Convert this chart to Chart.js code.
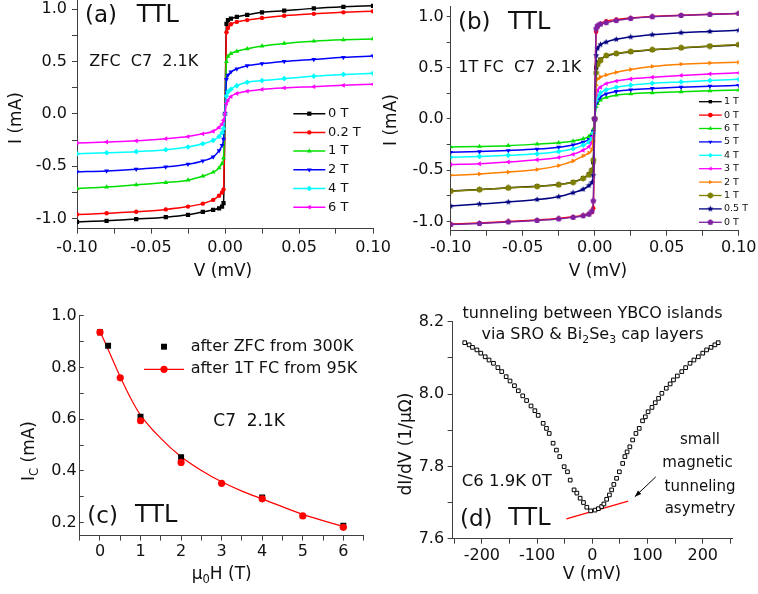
<!DOCTYPE html>
<html lang="en">
<head>
<meta charset="UTF-8">
<title>TTL tunneling junctions</title>
<script src="https://cdn.jsdelivr.net/npm/chart.js"></script>
<style>
  body { margin: 0; background: #fff; }
  #wrap { position: relative; width: 758px; height: 594px; }
  #wrap canvas { position: absolute; left: 0; top: 0; }
</style>
</head>
<body>
<div id="wrap">
  <canvas id="pa" width="758" height="594"></canvas>
  <canvas id="pb" width="758" height="594"></canvas>
  <canvas id="pc" width="758" height="594"></canvas>
  <canvas id="pd" width="758" height="594"></canvas>
</div>
<script>
// ---------- (a) I-V after ZFC ----------
const va = [-0.1, -0.08, -0.06, -0.04, -0.025, -0.015, -0.008, -0.004, -0.002, -0.001, 0,
            0.001, 0.002, 0.004, 0.008, 0.015, 0.025, 0.04, 0.06, 0.08, 0.1];
const fieldsA = ['0 T', '0.2 T', '1 T', '2 T', '4 T', '6 T'];
const ia0T  = [-1.03, -1.02, -1.003, -0.985, -0.962, -0.935, -0.915, -0.9, -0.885, -0.85, 0, 0.86, 0.895, 0.91, 0.925, 0.945, 0.97, 0.985, 1.007, 1.022, 1.032];
const ia02T = [-0.96, -0.948, -0.934, -0.911, -0.884, -0.856, -0.82, -0.78, -0.75, -0.72, 0, 0.78, 0.82, 0.855, 0.878, 0.895, 0.915, 0.937, 0.955, 0.969, 0.98];
const ia1T  = [-0.712, -0.697, -0.676, -0.654, -0.632, -0.593, -0.556, -0.515, -0.473, -0.42, 0, 0.5, 0.55, 0.575, 0.598, 0.622, 0.648, 0.673, 0.694, 0.707, 0.716];
const ia2T  = [-0.553, -0.544, -0.528, -0.506, -0.48, -0.449, -0.41, -0.35, -0.3, -0.24, 0, 0.33, 0.37, 0.4, 0.43, 0.46, 0.48, 0.5, 0.52, 0.54, 0.553];
const ia4T  = [-0.38, -0.37, -0.36, -0.342, -0.315, -0.285, -0.252, -0.215, -0.18, -0.14, 0, 0.17, 0.21, 0.235, 0.27, 0.302, 0.318, 0.337, 0.36, 0.377, 0.387];
const ia6T  = [-0.277, -0.268, -0.257, -0.236, -0.216, -0.19, -0.165, -0.128, -0.095, -0.06, 0, 0.1, 0.13, 0.165, 0.195, 0.217, 0.234, 0.248, 0.26, 0.273, 0.283];

// ---------- (b) I-V after 1T FC (same V grid) ----------
const vb = va;
const fieldsB = ['1 T', '0 T', '6 T', '5 T', '4 T', '3 T', '2 T', '1 T', '0.5 T', '0 T'];
const ib1Ta = [-0.702, -0.688, -0.672, -0.656, -0.64, -0.615, -0.578, -0.54, -0.5, -0.42, 0, 0.5, 0.55, 0.58, 0.615, 0.638, 0.655, 0.675, 0.693, 0.71, 0.722];
const ib0Ta = [-1.025, -1.015, -1.0, -0.985, -0.97, -0.955, -0.94, -0.925, -0.91, -0.87, 0, 0.85, 0.9, 0.93, 0.955, 0.97, 0.985, 1.0, 1.012, 1.022, 1.03];
const ib6T  = [-0.273, -0.268, -0.26, -0.245, -0.232, -0.215, -0.193, -0.17, -0.14, -0.1, 0, 0.12, 0.15, 0.185, 0.21, 0.232, 0.245, 0.256, 0.266, 0.275, 0.283];
const ib5T  = [-0.325, -0.318, -0.308, -0.294, -0.275, -0.253, -0.225, -0.2, -0.17, -0.12, 0, 0.15, 0.18, 0.215, 0.245, 0.268, 0.285, 0.298, 0.31, 0.32, 0.328];
const ib4T  = [-0.374, -0.365, -0.355, -0.34, -0.318, -0.29, -0.255, -0.225, -0.19, -0.14, 0, 0.18, 0.22, 0.255, 0.285, 0.31, 0.33, 0.348, 0.362, 0.375, 0.387];
const ib3T  = [-0.445, -0.437, -0.42, -0.398, -0.375, -0.345, -0.305, -0.27, -0.23, -0.17, 0, 0.24, 0.28, 0.31, 0.345, 0.37, 0.39, 0.407, 0.425, 0.44, 0.45];
const ib2T  = [-0.55, -0.537, -0.518, -0.494, -0.455, -0.41, -0.36, -0.33, -0.3, -0.22, 0, 0.33, 0.39, 0.41, 0.43, 0.455, 0.483, 0.513, 0.535, 0.546, 0.553];
const ib1Tb = [-0.705, -0.69, -0.673, -0.658, -0.642, -0.618, -0.58, -0.545, -0.5, -0.4, 0, 0.45, 0.53, 0.57, 0.62, 0.64, 0.658, 0.676, 0.695, 0.712, 0.725];
const ib05T = [-0.85, -0.83, -0.81, -0.786, -0.758, -0.72, -0.686, -0.65, -0.62, -0.55, 0, 0.62, 0.69, 0.725, 0.75, 0.777, 0.8, 0.822, 0.842, 0.854, 0.865];
const ib0Tb = [-1.03, -1.02, -1.005, -0.99, -0.975, -0.96, -0.945, -0.93, -0.9, -0.8, 0, 0.88, 0.91, 0.925, 0.94, 0.96, 0.98, 0.997, 1.01, 1.02, 1.03];

// ---------- (c) Ic vs field ----------
const hZfc  = [0, 0.2, 1, 2, 4, 6];
const icZfc = [0.936, 0.884, 0.61, 0.453, 0.297, 0.188];
const hFc   = [0, 0.5, 1, 2, 3, 4, 5, 6];
const icFc  = [0.936, 0.76, 0.594, 0.433, 0.352, 0.292, 0.226, 0.182];
const hFit  = [0, 0.25, 0.5, 0.75, 1, 1.5, 2, 2.5, 3, 3.5, 4, 5, 6];
const icFit = [0.94, 0.852, 0.764, 0.683, 0.616, 0.526, 0.455, 0.402, 0.358, 0.322, 0.292, 0.232, 0.185];

// ---------- (d) dI/dV ----------
const dV = [-231, -223, -217, -209, -202, -194, -187, -179, -171, -164, -156, -149, -141, -134, -126, -119, -111, -104, -98, -89,
            -83, -78, -71, -65, -59, -51, -45, -40, -33, -28, -22, -16, -10, -3,
            5, 11, 17, 21, 26, 31, 35, 39, 44, 49, 55, 59, 63, 68, 73, 79, 85, 91, 96, 101,
            108, 114, 120, 126, 134, 141, 147, 154, 162, 169, 177, 184, 192, 200, 207, 215, 222, 228];
const dG = [8.142, 8.136, 8.129, 8.122, 8.113, 8.103, 8.094, 8.085, 8.073, 8.062, 8.048, 8.036, 8.023, 8.009, 7.995, 7.982, 7.967, 7.954, 7.941, 7.919,
            7.905, 7.891, 7.864, 7.845, 7.827, 7.799, 7.785, 7.762, 7.735, 7.726, 7.712, 7.700, 7.687, 7.677,
            7.679, 7.683, 7.689, 7.696, 7.709, 7.721, 7.735, 7.750, 7.767, 7.785, 7.808, 7.827, 7.840, 7.854, 7.873, 7.891, 7.905, 7.926, 7.937, 7.951,
            7.963, 7.976, 7.988, 8.002, 8.016, 8.028, 8.039, 8.050, 8.062, 8.073, 8.085, 8.094, 8.103, 8.113, 8.122, 8.129, 8.136, 8.142];
const asymV = [-47, 65];
const asymG = [7.655, 7.704];
const arrowV = [115, 77];      // tail, head
const arrowG = [7.771, 7.716];

// ---------- helpers ----------
const FONT = '"DejaVu Sans", "Liberation Sans", Arial, sans-serif';
const AXIS = '#404040';
const INK = '#111';

function shape(color, sides, star) {
    // small filled polygon / star marker for Origin-like symbols
    const c = document.createElement('canvas');
    c.width = c.height = 7;
    const g = c.getContext('2d');
    const n = star ? sides * 2 : sides;
    g.fillStyle = color;
    g.beginPath();
    for (let i = 0; i < n; i++) {
        const r = star && i % 2 ? 1.5 : 3.2;
        const a = -Math.PI / 2 + i * 2 * Math.PI / n;
        g.lineTo(3.5 + r * Math.cos(a), 3.5 + r * Math.sin(a));
    }
    g.closePath();
    g.fill();
    return c;
}

function drawRich(ctx, segs, x, y, size, align, rot) {
    ctx.save();
    ctx.translate(x, y);
    if (rot) ctx.rotate(rot * Math.PI / 180);
    let w = 0;
    const parts = segs.map(s => {
        const fs = s.sub ? size * 0.68 : size;
        ctx.font = fs + 'px ' + FONT;
        const m = ctx.measureText(s.t).width;
        w += m;
        return { s, fs, m };
    });
    let cx = align === 'center' ? -w / 2 : (align === 'right' ? -w : 0);
    ctx.textBaseline = 'middle';
    ctx.textAlign = 'left';
    ctx.fillStyle = INK;
    parts.forEach(p => {
        ctx.font = p.fs + 'px ' + FONT;
        ctx.fillText(p.s.t, cx, p.s.sub ? size * 0.32 : 0);
        cx += p.m;
    });
    ctx.restore();
}

function notePlugin(notes) {
    return {
        id: 'notes',
        afterDraw(chart) {
            notes.forEach(n => drawRich(chart.ctx, typeof n.s === 'string' ? [{ t: n.s }] : n.s,
                n.x, n.y, n.size, n.align || 'left', n.rot));
        }
    };
}

function keyPlugin(items, o) {
    return {
        id: 'keys',
        afterDraw(chart) {
            const ctx = chart.ctx;
            items.forEach((it, k) => {
                const y = o.y + k * o.dy;
                ctx.save();
                if (it.line !== false) {
                    ctx.strokeStyle = it.color;
                    ctx.lineWidth = o.lw || 1.5;
                    ctx.beginPath();
                    ctx.moveTo(o.x0, y);
                    ctx.lineTo(o.x1, y);
                    ctx.stroke();
                }
                ctx.fillStyle = it.color;
                Chart.helpers.drawPoint(ctx, { pointStyle: it.style, rotation: it.rot || 0, radius: it.r, borderWidth: 0 },
                    (o.x0 + o.x1) / 2, y);
                ctx.restore();
                drawRich(ctx, [{ t: it.label }], o.tx, y, o.size, 'left');
            });
        }
    };
}

function isMult(v, m) { return Math.abs(v / m - Math.round(v / m)) < 1e-6; }

function axis(min, max, step, every, digits, o) {
    o = o || {};
    return {
        type: 'linear', min, max,
        border: { display: true, color: AXIS, width: 1 },
        grid: { display: true, drawOnChartArea: false, drawTicks: true, tickLength: o.tl === undefined ? 5 : o.tl, color: AXIS, tickColor: AXIS },
        ticks: {
            stepSize: step, includeBounds: false, autoSkip: false, maxRotation: 0,
            padding: o.pad === undefined ? 5 : o.pad, color: INK, font: { family: FONT, size: 16 },
            callback: v => {
                if (!isMult(v, every)) return '';
                if (Math.abs(v) < 1e-9) v = 0;
                return v.toFixed(digits);
            }
        },
        afterFit: s => {
            if (s.isHorizontal()) s.height = 50; else s.width = 50;
            // keep the plot box exactly where the layout padding puts it
            s.paddingTop = s.paddingBottom = s.paddingLeft = s.paddingRight = 0;
        }
    };
}

function options(area, xs, ys) {
    return {
        responsive: false, animation: false, devicePixelRatio: 1, events: [],
        layout: { autoPadding: false, padding: { left: area.l - 50, top: area.t, right: 758 - area.r, bottom: 594 - area.b - 50 } },
        plugins: { legend: { display: false }, tooltip: { enabled: false } },
        scales: { x: xs, y: ys }
    };
}

function ivSet(label, v, i, color, style, rot, r, k) {
    return {
        label, data: v.map((x, n) => ({ x, y: i[n] })),
        showLine: true, borderColor: color, backgroundColor: color, borderWidth: 1.5,
        pointStyle: style, pointRotation: rot, pointRadius: r, pointBorderWidth: 0,
        pointBackgroundColor: color, cubicInterpolationMode: 'monotone', order: -k
    };
}

// ---------- panel (a) ----------
const specA = [
    [ia0T, '#000000', 'rect', 0, 3],
    [ia02T, '#ff0000', 'circle', 0, 2.2],
    [ia1T, '#00e000', 'triangle', 0, 2.8],
    [ia2T, '#0000ff', 'triangle', 180, 2.8],
    [ia4T, '#00ffff', 'rectRot', 0, 2.8],
    [ia6T, '#ff00ff', 'triangle', 270, 2.8]
];
const setsA = specA.map((s, k) => ivSet(fieldsA[k], va, s[0], s[1], s[2], s[3], s[4], k));

new Chart(document.getElementById('pa'), {
    type: 'scatter',
    data: { datasets: setsA },
    options: options({ l: 77, r: 373, t: 0.2, b: 228.7 },
        axis(-0.1, 0.1, 0.025, 0.05, 2, { pad: 5 }),
        axis(-1.095, 1.085, 0.25, 0.5, 1, { pad: 5 })),
    plugins: [
        notePlugin([
            { s: '(a)', x: 85, y: 16, size: 23 },
            { s: 'TTL', x: 136.7, y: 15.5, size: 24 },
            { s: 'ZFC  C7  2.1K', x: 89.3, y: 62.3, size: 16 },
            { s: 'I (mA)', x: 17, y: 118, size: 17, align: 'center', rot: -90 },
            { s: 'V (mV)', x: 223, y: 272, size: 17, align: 'center' }
        ]),
        keyPlugin(setsA.map(d => ({ label: d.label, color: d.borderColor, style: d.pointStyle, rot: d.pointRotation, r: d.pointRadius })),
            { x0: 293.3, x1: 325.3, tx: 328, y: 113.7, dy: 18.7, size: 13 })
    ]
});

// ---------- panel (b) ----------
const specB = [
    [ib1Ta, '#000000', 'rect', 0, 3],
    [ib0Ta, '#ff0000', 'circle', 0, 2.2],
    [ib6T, '#00e000', 'triangle', 0, 2.8],
    [ib5T, '#0000ff', 'triangle', 180, 2.8],
    [ib4T, '#00ffff', 'rectRot', 0, 2.8],
    [ib3T, '#ff00ff', 'triangle', 270, 2.8],
    [ib2T, '#ff8000', 'triangle', 90, 2.8],
    [ib1Tb, '#808000', shape('#808000', 6, false), 0, 3],
    [ib05T, '#000080', shape('#000080', 5, true), 0, 3],
    [ib0Tb, '#8020a0', shape('#8020a0', 5, false), 0, 3]
];
const setsB = specB.map((s, k) => ivSet(fieldsB[k], vb, s[0], s[1], s[2], s[3], s[4], k));

new Chart(document.getElementById('pb'), {
    type: 'scatter',
    data: { datasets: setsB },
    options: options({ l: 450.7, r: 738.7, t: 6.25, b: 230.7 },
        axis(-0.1, 0.1, 0.025, 0.05, 2, { pad: 3 }),
        axis(-1.09, 1.1, 0.25, 0.5, 1, { pad: 3, tl: 4 })),
    plugins: [
        notePlugin([
            { s: '(b)', x: 458, y: 23, size: 23 },
            { s: 'TTL', x: 508, y: 23, size: 24 },
            { s: '1T FC  C7  2.1K', x: 458.3, y: 68.3, size: 16 },
            { s: 'I (mA)', x: 392, y: 120, size: 17, align: 'center', rot: -90 },
            { s: 'V (mV)', x: 598, y: 272, size: 17, align: 'center' }
        ]),
        keyPlugin(setsB.map(d => ({ label: d.label, color: d.borderColor, style: d.pointStyle, rot: d.pointRotation, r: 2.4 })),
            { x0: 699, x1: 721.7, tx: 724, y: 101.7, dy: 13.4, size: 9.5, lw: 1.3 })
    ]
});

// ---------- panel (c) ----------
new Chart(document.getElementById('pc'), {
    type: 'scatter',
    data: {
        datasets: [
            { label: 'after ZFC from 300K', data: hZfc.map((x, n) => ({ x, y: icZfc[n] })),
              pointStyle: 'rect', pointRadius: 4.2, pointBorderWidth: 0, backgroundColor: '#000', borderColor: '#000', order: 1 },
            { label: 'after 1T FC from 95K', data: hFc.map((x, n) => ({ x, y: icFc[n] })),
              pointStyle: 'circle', pointRadius: 3.6, pointBorderWidth: 0, backgroundColor: '#ff0000', borderColor: '#ff0000', order: 0 },
            { label: 'fit', data: hFit.map((x, n) => ({ x, y: icFit[n] })), showLine: true,
              pointRadius: 0, borderColor: '#ff0000', borderWidth: 1.2, cubicInterpolationMode: 'monotone', order: 2 }
        ]
    },
    options: options({ l: 79.7, r: 363.6, t: 315.7, b: 535.6 },
        axis(-0.5, 6.5, 0.5, 1, 0, { pad: 2 }),
        axis(0.15, 1.0, 0.1, 0.2, 1, { pad: 7, tl: -4 })),
    plugins: [
        notePlugin([
            { s: '(c)', x: 87.3, y: 517, size: 23 },
            { s: 'TTL', x: 135, y: 516, size: 24 },
            { s: 'C7  2.1K', x: 213.3, y: 421.7, size: 17 },
            { s: [{ t: 'I' }, { t: 'C', sub: true }, { t: ' (mA)' }], x: 30, y: 451, size: 17, align: 'center', rot: -90 },
            { s: [{ t: 'μ' }, { t: '0', sub: true }, { t: 'H (T)' }], x: 221.7, y: 575, size: 17, align: 'center' }
        ]),
        keyPlugin([
            { label: 'after ZFC from 300K', color: '#000', style: 'rect', r: 4.2, line: false },
            { label: 'after 1T FC from 95K', color: '#ff0000', style: 'circle', r: 3.6 }
        ], { x0: 144, x1: 184, tx: 190.7, y: 346.7, dy: 22.6, size: 16, lw: 1.2 })
    ]
});

// ---------- panel (d) ----------
const arrowPlugin = {
    id: 'arrow',
    afterDatasetsDraw(chart) {
        const { ctx, scales: { x, y } } = chart;
        const x0 = x.getPixelForValue(arrowV[0]), y0 = y.getPixelForValue(arrowG[0]);
        const x1 = x.getPixelForValue(arrowV[1]), y1 = y.getPixelForValue(arrowG[1]);
        const a = Math.atan2(y1 - y0, x1 - x0);
        ctx.save();
        ctx.strokeStyle = '#000';
        ctx.fillStyle = '#000';
        ctx.lineWidth = 1;
        ctx.beginPath();
        ctx.moveTo(x0, y0);
        ctx.lineTo(x1, y1);
        ctx.stroke();
        ctx.beginPath();
        ctx.moveTo(x1, y1);
        ctx.lineTo(x1 - 7 * Math.cos(a - 0.35), y1 - 7 * Math.sin(a - 0.35));
        ctx.lineTo(x1 - 7 * Math.cos(a + 0.35), y1 - 7 * Math.sin(a + 0.35));
        ctx.closePath();
        ctx.fill();
        ctx.restore();
    }
};

new Chart(document.getElementById('pd'), {
    type: 'scatter',
    data: {
        datasets: [
            { label: 'dI/dV', data: dV.map((x, n) => ({ x, y: dG[n] })),
              pointStyle: 'rect', pointRadius: 2.6, pointBorderWidth: 1, borderColor: '#000', backgroundColor: '#fff', order: 0 },
            { label: 'asymmetry', data: asymV.map((x, n) => ({ x, y: asymG[n] })), showLine: true,
              pointRadius: 0, borderColor: '#ff0000', borderWidth: 1.2, order: 1 }
        ]
    },
    options: options({ l: 452.6, r: 732, t: 321.7, b: 538.7 },
        axis(-253, 253, 50, 100, 0, { pad: 3 }),
        axis(7.6, 8.2, 0.1, 0.2, 1, { pad: 3.5 })),
    plugins: [
        arrowPlugin,
        notePlugin([
            { s: '(d)', x: 460, y: 520, size: 23 },
            { s: 'TTL', x: 508.3, y: 518.3, size: 24 },
            { s: 'C6 1.9K 0T', x: 461.7, y: 481.7, size: 16.5 },
            { s: 'tunneling between YBCO islands', x: 592.5, y: 314, size: 16, align: 'center' },
            { s: [{ t: 'via SRO & Bi' }, { t: '2', sub: true }, { t: 'Se' }, { t: '3', sub: true }, { t: ' cap layers' }], x: 592.5, y: 335, size: 16, align: 'center' },
            { s: 'small', x: 700, y: 440, size: 15, align: 'center' },
            { s: 'magnetic', x: 697.5, y: 463.3, size: 15, align: 'center' },
            { s: 'tunneling', x: 700, y: 486.7, size: 15, align: 'center' },
            { s: 'asymetry', x: 700, y: 509.3, size: 15, align: 'center' },
            { s: 'dI/dV (1/μΩ)', x: 407, y: 444, size: 17, align: 'center', rot: -90 },
            { s: 'V (mV)', x: 592, y: 575, size: 17, align: 'center' }
        ])
    ]
});
</script>
</body>
</html>
